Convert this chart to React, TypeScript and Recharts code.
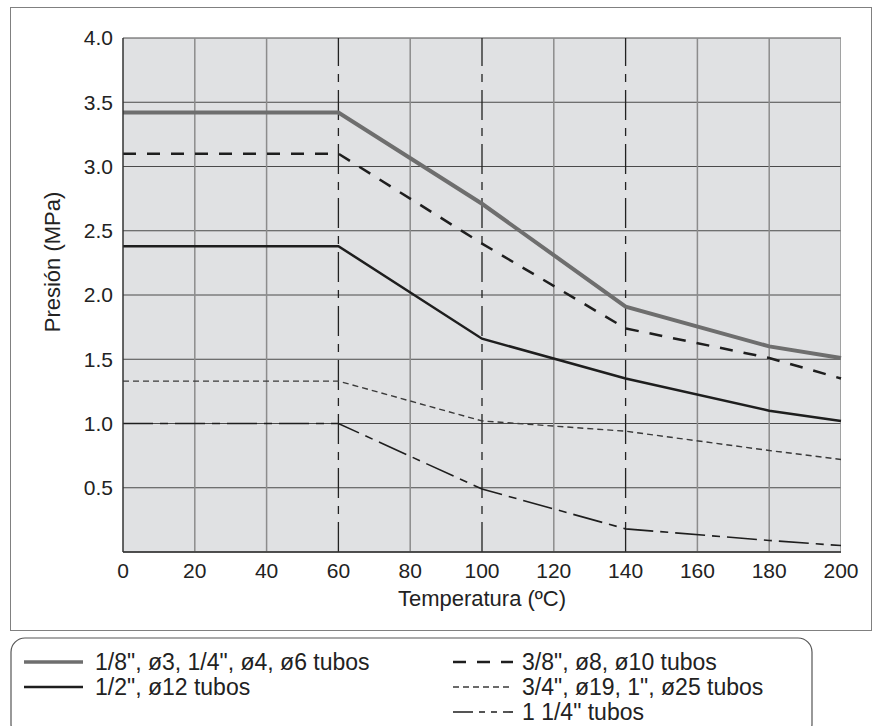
import React from 'react';
import { LineChart, Line, XAxis, YAxis, CartesianGrid, ReferenceLine, Label } from 'recharts';

// temperatures where the curves change slope
const temps = [0, 60, 100, 140, 180, 200];

// pressure (MPa) per tube group
const tubes18 = [3.42, 3.42, 2.71, 1.91, 1.6, 1.51];
const tubes38 = [3.1, 3.1, 2.4, 1.74, 1.51, 1.35];
const tubes12 = [2.38, 2.38, 1.66, 1.35, 1.1, 1.02];
const tubes34 = [1.33, 1.33, 1.02, 0.94, 0.79, 0.72];
const tubes114 = [1.0, 1.0, 0.49, 0.18, 0.09, 0.05];

const xTicks = [0, 20, 40, 60, 80, 100, 120, 140, 160, 180, 200];
const yTicks = [0.5, 1.0, 1.5, 2.0, 2.5, 3.0, 3.5, 4.0];
const plainGrid = [20, 40, 80, 120, 160, 180, 200];
const breakGrid = [60, 100, 140];

const FONT = '"Liberation Sans", Arial, Helvetica, sans-serif';

const series = [
  { key: 'a', values: tubes18, label: '1/8", ø3, 1/4", ø4, ø6 tubos', stroke: '#6e6e6e', width: 4, dash: undefined, col: 0, row: 0 },
  { key: 'b', values: tubes38, label: '3/8", ø8, ø10 tubos', stroke: '#1e1e1e', width: 2.5, dash: '13 11', col: 1, row: 0 },
  { key: 'c', values: tubes12, label: '1/2", ø12 tubos', stroke: '#1e1e1e', width: 2.5, dash: undefined, col: 0, row: 1 },
  { key: 'd', values: tubes34, label: '3/4", ø19, 1", ø25 tubos', stroke: '#3a3a3a', width: 1.4, dash: '6 4', col: 1, row: 1 },
  { key: 'e', values: tubes114, label: '1 1/4" tubos', stroke: '#1e1e1e', width: 1.6, dash: '30 7 8 7', col: 1, row: 2 },
];

const data = temps.map((t, i) => {
  const row: Record<string, number> = { t };
  series.forEach((s) => { row[s.key] = s.values[i]; });
  return row;
});

const YTitle = (props: any) => {
  const vb = props.viewBox || { x: 0, y: 38, width: 123, height: 514 };
  const cx = vb.x + 52;
  const cy = vb.y + vb.height / 2 - 33;
  return (
    <text x={cx} y={cy} transform={`rotate(-90, ${cx}, ${cy})`} textAnchor="middle" dominantBaseline="central"
      fontFamily={FONT} fontSize={22} fill="#222">
      Presión (MPa)
    </text>
  );
};

const XTitle = (props: any) => {
  const vb = props.viewBox || { x: 123, y: 552, width: 718, height: 88 };
  return (
    <text x={vb.x + vb.width / 2} y={vb.y + 46} textAnchor="middle" dominantBaseline="central"
      fontFamily={FONT} fontSize={22} fill="#222">
      Temperatura (ºC)
    </text>
  );
};

const legendX = [[24, 83, 95], [453, 513, 522]];
const legendY = [32, 57, 82];

export default function App() {
  return (
    <div style={{ position: 'absolute', left: 0, top: 0, width: 877, height: 726, background: '#fff' }}>
      <div style={{ position: 'absolute', left: 10, top: 7, width: 862, height: 624, border: '1.5px solid #808080', boxSizing: 'border-box' }} />
      <div style={{ position: 'absolute', left: 0, top: 0 }}>
        <LineChart width={877} height={640} data={data} margin={{ top: 38, right: 36, left: 0, bottom: 0 }}>
          <CartesianGrid vertical={false} horizontal stroke="#4a4a4a" strokeWidth={1} fill="#e0e1e3" />
          {plainGrid.map((v) => (
            <ReferenceLine key={v} x={v} stroke="#8c8c8c" strokeWidth={1.5} ifOverflow="hidden" />
          ))}
          {breakGrid.map((v) => (
            <ReferenceLine key={v} x={v} stroke="#222" strokeWidth={1.3} strokeDasharray="30 8 8 8" />
          ))}
          <XAxis dataKey="t" type="number" domain={[0, 200]} ticks={xTicks} height={88}
            tickLine={false} tickSize={0} tickMargin={11}
            axisLine={{ stroke: '#333', strokeWidth: 1.5 }}
            tick={{ fill: '#222', fontSize: 21, fontFamily: FONT }}
            label={<Label content={<XTitle />} />} />
          <YAxis type="number" domain={[0, 4]} ticks={yTicks} width={123}
            tickLine={false} tickSize={0} tickMargin={10}
            tickFormatter={(v: number) => v.toFixed(1)}
            axisLine={{ stroke: '#333', strokeWidth: 1.5 }}
            tick={{ fill: '#222', fontSize: 21, fontFamily: FONT }}
            label={<Label content={<YTitle />} />} />
          {series.map((s) => (
            <Line key={s.key} type="linear" dataKey={s.key} stroke={s.stroke} strokeWidth={s.width}
              strokeDasharray={s.dash} dot={false} activeDot={false} isAnimationActive={false} />
          ))}
        </LineChart>
      </div>
      <svg style={{ position: 'absolute', left: 0, top: 630 }} width={877} height={96}>
        <rect x={11} y={8} width={801} height={100} rx={14} ry={14} fill="none" stroke="#555" strokeWidth={1.2} />
        {series.map((s) => {
          const [x1, x2, tx] = legendX[s.col];
          const y = legendY[s.row];
          return (
            <g key={s.key}>
              <line x1={x1} x2={x2} y1={y} y2={y} stroke={s.stroke} strokeWidth={s.key === 'a' ? 3.5 : s.width}
                strokeDasharray={s.key === 'e' ? '20 6 6 6 6 6' : s.dash} />
              <text x={tx} y={y} dominantBaseline="central" fontFamily={FONT} fontSize={23} fill="#222">{s.label}</text>
            </g>
          );
        })}
      </svg>
    </div>
  );
}
